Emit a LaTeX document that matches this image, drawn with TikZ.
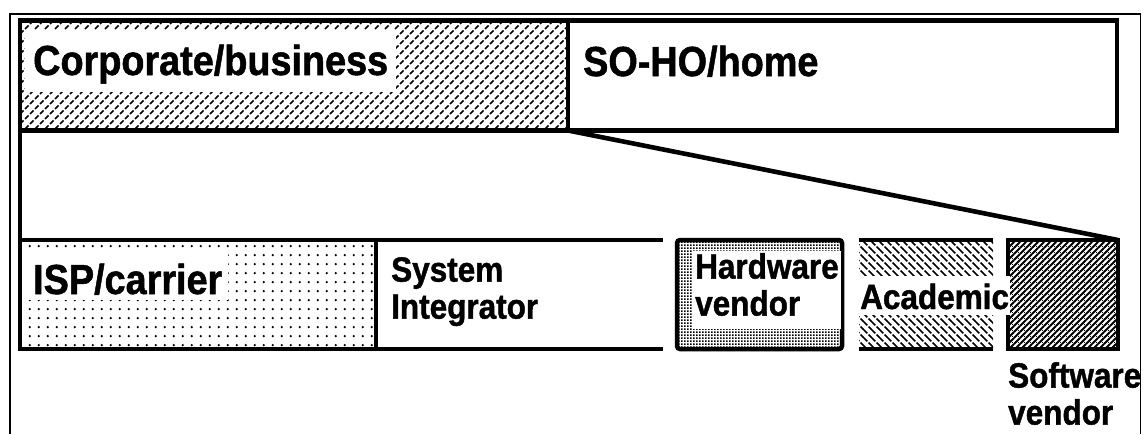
\documentclass[tikz,border=0pt]{standalone}
\usepackage{fontspec}
\newfontfamily\lblfont[FakeStretch=0.9,FakeBold=1.2]{Liberation Sans}
\usetikzlibrary{patterns}

% dashed "/" hatching
\pgfdeclarepatternformonly{slashdash}{\pgfpoint{-1pt}{-1pt}}{\pgfpoint{11pt}{11pt}}{\pgfpoint{10pt}{10pt}}{%
  \pgfsetlinewidth{1.6pt}%
  \pgfpathmoveto{\pgfpoint{0pt}{0pt}}\pgfpathlineto{\pgfpoint{3.5pt}{3.5pt}}%
  \pgfpathmoveto{\pgfpoint{5pt}{5pt}}\pgfpathlineto{\pgfpoint{8.5pt}{8.5pt}}%
  \pgfusepath{stroke}}
% dashed "\" hatching
\pgfdeclarepatternformonly{backdash}{\pgfpoint{-1pt}{-1pt}}{\pgfpoint{9pt}{9pt}}{\pgfpoint{8pt}{8pt}}{%
  \pgfsetlinewidth{1.6pt}%
  \pgfpathmoveto{\pgfpoint{0pt}{8pt}}\pgfpathlineto{\pgfpoint{3.3pt}{4.7pt}}%
  \pgfpathmoveto{\pgfpoint{4.5pt}{3.5pt}}\pgfpathlineto{\pgfpoint{8pt}{0pt}}%
  \pgfusepath{stroke}}
% sparse dot grid
\pgfdeclarepatternformonly{ispdots}{\pgfpoint{0pt}{0pt}}{\pgfpoint{8.5pt}{8.5pt}}{\pgfpoint{8.5pt}{8.5pt}}{%
  \pgfpathcircle{\pgfpoint{4pt}{4pt}}{1.3pt}\pgfusepath{fill}}
% fine mesh
\pgfdeclarepatternformonly{hwmesh}{\pgfpoint{0pt}{0pt}}{\pgfpoint{3.2pt}{3.2pt}}{\pgfpoint{3.2pt}{3.2pt}}{%
  \pgfpathrectangle{\pgfpoint{0pt}{0pt}}{\pgfpoint{2.1pt}{2.1pt}}\pgfusepath{fill}}
% dense weave
\pgfdeclarepatternformonly{weave}{\pgfpoint{-1pt}{-1pt}}{\pgfpoint{7pt}{7pt}}{\pgfpoint{6pt}{6pt}}{%
  \pgfsetlinewidth{1.8pt}%
  \pgfpathmoveto{\pgfpoint{0pt}{0pt}}\pgfpathlineto{\pgfpoint{6pt}{6pt}}%
  \pgfusepath{stroke}%
  \pgfpathrectangle{\pgfpoint{3.6pt}{0.6pt}}{\pgfpoint{1.4pt}{1.4pt}}\pgfusepath{fill}}

\begin{document}
\begin{tikzpicture}[x=1pt,y=-1pt,
  box/.style={draw, line width=4.5pt, outer sep=0pt, inner sep=0pt, anchor=north west},
  openbox/.style={outer sep=0pt, inner sep=0pt, anchor=north west},
  edge/.style={line width=4.5pt},
  conn/.style={line width=4.6pt},
  frame/.style={line width=1.4pt},
  big/.style={font=\lblfont\bfseries\fontsize{42}{46}\selectfont, inner sep=0pt},
  small/.style={font=\lblfont\bfseries\fontsize{35}{37}\selectfont, inner sep=0pt, align=left},
]
\useasboundingbox (0,0) rectangle (1146,434);

% outer frame
\draw[frame] (10,434) -- (10,14) -- (1140.5,14) -- (1140.5,434);

% upper segments
\node[box, pattern=slashdash, minimum width=548pt, minimum height=110pt] (corp) at (20,20.5) {};
\node[box, fill=white, minimum width=549pt, minimum height=110pt] (soho) at (568,20.5) {};

% lower segments
\node[box, pattern=ispdots, minimum width=356pt, minimum height=109pt] (isp) at (20,240) {};
\node[openbox, minimum width=287pt, minimum height=109pt] (si) at (376,240) {};
\draw[edge] (si.north west) -- (si.north east);
\draw[edge] (si.south west) -- (si.south east);
\node[box, rounded corners=3pt, pattern=hwmesh, minimum width=165pt, minimum height=109pt] (hw) at (677,240) {};
\node[openbox, pattern=backdash, minimum width=134pt, minimum height=109pt] (acad) at (859,240) {};
\draw[edge] (acad.north west) -- (acad.north east);
\draw[edge] (acad.south west) -- (acad.south east);
\node[box, pattern=weave, minimum width=110pt, minimum height=109pt] (sw) at (1008,240) {};

% expansion lines
\draw[conn] (corp.south west) -- (isp.north west);
\draw[conn] (corp.south east) -- (sw.north east);

% labels
\node[big, fill=white, inner xsep=8pt, text height=45pt, text depth=17pt, anchor=base west] (corpL) at (25,75) {Corporate/business};
\node[big, anchor=base west] (sohoL) at (583,76) {SO-HO/home};
\node[big, fill=white, inner xsep=6pt, text height=42pt, text depth=6pt, anchor=base west] (ispL) at (27,294) {ISP/carrier};
\node[small, anchor=north west] (siL) at (391,257) {System\\Integrator};
\node[small, fill=white, inner sep=2pt, text depth=11pt, anchor=north west] (hwL) at (693,251) {Hardware\\vendor};
\node[small, fill=white, inner xsep=1pt, text height=33pt, text depth=6pt, anchor=base west] (acadL) at (859,309) {Academic};
\node[small, anchor=north west] (swL) at (1008,362) {Software\\vendor};
\end{tikzpicture}
\end{document}
